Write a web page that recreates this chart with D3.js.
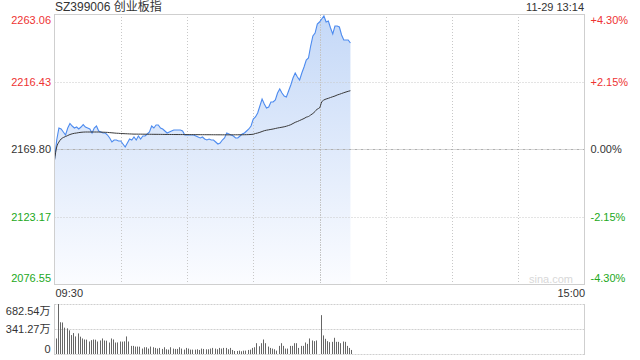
<!DOCTYPE html>
<html><head><meta charset="utf-8">
<script src="https://cdn.jsdelivr.net/npm/d3@7/dist/d3.min.js"></script>
<style>
body{margin:0;background:#fff}
svg{display:block}
text{font-family:"Liberation Sans",Arial,"Noto Sans CJK SC",sans-serif}
</style>
</head><body>
<svg id="c" width="640" height="360"></svg>
<script>
const title = "SZ399006 创业板指";
const stamp = "11-29 13:14";
const prevClose = 2169.80;
const priceTicks = [2263.06, 2216.43, 2169.80, 2123.17, 2076.55];
const pctTicks = ["+4.30%", "+2.15%", "0.00%", "-2.15%", "-4.30%"];
const timeLabels = ["09:30", "15:00"];
const volTicks = [682.54, 341.27, 0];
const watermark = "sina.com";

const prices = [
2162.20,2176.02,2184.31,2183.62,2181.54,2179.47,2184.31,2187.42,2185.69,2184.31,
2185.00,2183.62,2185.00,2186.72,2185.00,2184.31,2183.62,2180.85,2184.31,2185.69,
2182.23,2181.54,2180.85,2180.85,2179.47,2177.40,2174.64,2176.02,2176.02,2175.33,
2175.33,2173.25,2171.18,2173.94,2176.71,2176.02,2178.09,2176.02,2178.78,2176.71,
2178.78,2178.78,2180.16,2181.54,2185.69,2184.31,2186.38,2186.38,2184.31,2183.62,
2182.23,2180.85,2181.54,2182.23,2182.93,2182.93,2182.93,2182.93,2182.23,2179.47,
2179.47,2179.47,2179.47,2179.47,2178.78,2178.09,2177.40,2178.09,2176.71,2176.02,
2176.71,2176.02,2176.02,2174.64,2173.25,2173.94,2176.02,2177.40,2180.85,2180.16,
2179.47,2178.78,2177.40,2177.40,2178.78,2180.16,2180.85,2182.23,2183.62,2185.69,
2190.52,2191.91,2194.67,2199.50,2204.34,2200.89,2198.12,2198.81,2202.27,2202.27,
2203.65,2208.48,2211.25,2208.48,2206.41,2205.72,2209.87,2214.01,2218.85,2222.30,
2219.54,2217.47,2222.30,2226.45,2231.28,2232.66,2240.95,2247.86,2249.93,2256.15,
2257.53,2259.60,2261.68,2257.53,2258.22,2253.39,2249.24,2254.77,2254.77,2254.08,
2248.55,2245.10,2245.10,2245.10,2243.02
];

const avgPrices = [
2162.20,2171.18,2174.64,2176.71,2177.74,2178.44,2179.13,2179.82,2180.30,2180.65,
2180.85,2181.13,2181.34,2181.47,2181.54,2181.54,2181.54,2181.54,2181.54,2181.54,
2181.54,2181.47,2181.41,2181.34,2181.27,2181.13,2180.99,2180.85,2180.71,2180.65,
2180.51,2180.44,2180.37,2180.30,2180.23,2180.16,2180.09,2180.09,2180.06,2180.06,
2180.04,2180.02,2180.00,2179.98,2179.96,2179.95,2179.93,2179.92,2179.90,2179.88,
2179.86,2179.85,2179.83,2179.82,2179.81,2179.80,2179.79,2179.78,2179.78,2179.77,
2179.76,2179.75,2179.74,2179.73,2179.72,2179.71,2179.70,2179.69,2179.68,2179.67,
2179.66,2179.65,2179.64,2179.63,2179.62,2179.61,2179.60,2179.60,2179.60,2179.60,
2179.60,2179.61,2179.62,2179.62,2179.63,2179.64,2179.66,2179.70,2179.75,2179.85,
2180.00,2180.51,2180.85,2181.34,2181.89,2182.44,2182.79,2183.06,2183.34,2183.62,
2183.96,2184.31,2184.58,2184.86,2185.14,2185.55,2186.03,2186.59,2187.42,2188.24,
2188.80,2189.49,2190.18,2190.87,2191.77,2192.25,2193.29,2194.32,2195.71,2197.43,
2198.12,2202.27,2203.65,2204.34,2204.82,2205.38,2205.93,2206.41,2207.10,2207.59,
2208.14,2208.69,2209.18,2209.66,2210.07
];

const volumes = [
212.2,682.54,433.5,430.2,359.7,350.5,322.8,258.3,285.9,239.8,
281.3,236.5,212.2,198.3,196.1,170.6,189.1,198.3,195.4,170.6,
184.5,212.2,184.5,181.7,156.8,212.2,198.3,156.8,158.1,170.6,
168.9,172.4,239.8,170.6,110.7,110.7,101.5,101.5,99.8,73.8,
92.2,92.2,73.8,101.5,92.2,83.0,73.8,83.0,69.2,92.2,
64.6,60.0,92.2,73.8,69.2,69.2,92.2,73.8,60.0,83.0,
73.8,60.0,60.0,60.0,64.6,55.3,73.8,69.2,64.6,64.6,
73.8,83.0,73.8,64.6,83.0,73.8,83.0,83.0,64.6,83.0,
55.3,41.5,41.5,46.1,36.9,46.1,46.1,55.3,60.0,83.0,
92.2,147.6,106.1,147.6,198.3,147.6,101.5,83.0,73.8,64.6,
46.1,110.7,147.6,110.7,73.8,73.8,110.7,110.7,147.6,147.6,
83.0,110.7,110.7,156.8,138.4,212.2,184.5,175.3,184.5,0,
530.4,253.7,207.5,175.3,161.4,166.0,221.4,166.0,166.0,147.6,
170.6,166.0,110.7,83.0,55.3
];

const svg = d3.select("#c");
const L = 54.5, R = 584.5, T = 14, B = 284;
const VT = 304, VB = 354;

const x = d3.scaleLinear().domain([0, 240]).range([L, R]);
const y = d3.scaleLinear().domain([priceTicks[4], priceTicks[0]]).range([B, T]);
const yv = d3.scaleLinear().domain([0, volTicks[0]]).range([VB, VT]);

const red = "#ee3333", green = "#22a822", dark = "#333";
const tickColor = i => i < 2 ? red : (i === 2 ? dark : green);

const defs = svg.append("defs");
const grad = defs.append("linearGradient").attr("id", "g")
  .attr("gradientUnits", "userSpaceOnUse")
  .attr("x1", 0).attr("x2", 0).attr("y1", T).attr("y2", B);
grad.append("stop").attr("offset", "0%").attr("stop-color", "#c4d8f7");
grad.append("stop").attr("offset", "100%").attr("stop-color", "#fbfcff");

const idx = prices.map((d, i) => i);
svg.append("path").datum(idx)
  .attr("d", d3.area().x(i => x(i)).y0(B).y1(i => y(prices[i])))
  .attr("fill", "url(#g)");

const g = svg.append("g");
[30, 60, 90, 150, 180, 210].forEach(t => {
  g.append("line").attr("x1", Math.round(x(t)) + 0.5).attr("x2", Math.round(x(t)) + 0.5)
    .attr("y1", T).attr("y2", B).attr("stroke", "#c8c8c8").attr("stroke-dasharray", "1,2");
});
g.append("line").attr("x1", Math.round(x(120)) + 0.5).attr("x2", Math.round(x(120)) + 0.5)
  .attr("y1", T).attr("y2", B).attr("stroke", "#c4c4c4").attr("stroke-dasharray", "2,1,1,1");
[1, 3].forEach(k => {
  const yy = Math.round(y(priceTicks[k])) + 0.5;
  g.append("line").attr("x1", L).attr("x2", R).attr("y1", yy).attr("y2", yy)
    .attr("stroke", "#c8c8c8").attr("stroke-dasharray", "1,2");
});
{
  const yy = Math.round(y(prevClose)) + 0.5;
  g.append("line").attr("x1", L).attr("x2", R).attr("y1", yy).attr("y2", yy)
    .attr("stroke", "#b0b0b0").attr("stroke-dasharray", "3,1,1,1");
}

svg.append("path").datum(idx)
  .attr("d", d3.line().x(i => x(i)).y(i => y(prices[i])))
  .attr("fill", "none").attr("stroke", "#4d8bef").attr("stroke-width", 1.1);
svg.append("path").datum(idx)
  .attr("d", d3.line().x(i => x(i)).y(i => y(avgPrices[i])).curve(d3.curveMonotoneX))
  .attr("fill", "none").attr("stroke", "#3a3a3a").attr("stroke-width", 1);

svg.append("rect").attr("x", L).attr("y", T + 0.5).attr("width", R - L).attr("height", B - T)
  .attr("fill", "none").attr("stroke", "#cfcfcf");

svg.append("text").attr("x", 573).attr("y", 279).attr("dy", "0.35em")
  .attr("text-anchor", "end").attr("font-size", 11).attr("fill", "#d8d8d8").text(watermark);

const ax = svg.append("g").attr("transform", `translate(${L},0)`)
  .call(d3.axisLeft(y).tickValues(priceTicks).tickSize(0).tickPadding(3.5).tickFormat(d3.format(".2f")));
ax.select(".domain").remove();
ax.selectAll("text").attr("font-size", 11).attr("font-family", null)
  .attr("fill", (d, i) => tickColor(i))
  .attr("y", (d, i) => i === 0 ? 6 : (i === 4 ? -6.5 : 0));

const ar = svg.append("g").attr("transform", `translate(${R},0)`)
  .call(d3.axisRight(y).tickValues(priceTicks).tickSize(0).tickPadding(6).tickFormat((d, i) => pctTicks[i]));
ar.select(".domain").remove();
ar.selectAll("text").attr("font-size", 11).attr("font-family", null)
  .attr("fill", (d, i) => tickColor(i))
  .attr("y", (d, i) => i === 0 ? 6 : (i === 4 ? -6.5 : 0));

const at = svg.append("g").attr("transform", `translate(0,${B})`)
  .call(d3.axisBottom(x).tickValues([0, 240]).tickSize(0).tickPadding(5).tickFormat((d, i) => timeLabels[i]));
at.select(".domain").remove();
at.selectAll("text").attr("font-size", 11).attr("font-family", null).attr("fill", dark)
  .attr("text-anchor", (d, i) => i === 0 ? "start" : "end")
  .attr("dx", (d, i) => i === 0 ? 0.5 : 0);

svg.append("text").attr("x", 55).attr("y", 11).attr("font-size", 12).attr("fill", dark).text(title);
svg.append("text").attr("x", 584).attr("y", 11).attr("font-size", 11).attr("fill", dark)
  .attr("text-anchor", "end").text(stamp);

volTicks.forEach(v => {
  const yy = Math.round(yv(v)) + 0.5;
  svg.append("line").attr("x1", L).attr("x2", R).attr("y1", yy).attr("y2", yy)
    .attr("stroke", "#cfcfcf").attr("stroke-dasharray", "2,1");
});
[L, R].forEach(xx => {
  svg.append("line").attr("x1", xx).attr("x2", xx).attr("y1", VT).attr("y2", VB + 1)
    .attr("stroke", "#cfcfcf");
});
svg.append("g").selectAll("rect").data(volumes).join("rect")
  .attr("x", (d, i) => Math.round(x(i) + 1))
  .attr("width", 1)
  .attr("y", d => yv(d))
  .attr("height", d => VB - yv(d))
  .attr("fill", "#666");

const av = svg.append("g").attr("transform", `translate(${L},0)`)
  .call(d3.axisLeft(yv).tickValues(volTicks).tickSize(0).tickPadding(4)
    .tickFormat(d => d === 0 ? "0" : d3.format(".2f")(d) + "万"));
av.select(".domain").remove();
av.selectAll("text").attr("font-size", 11).attr("font-family", null).attr("fill", dark)
  .attr("y", (d, i) => i === 0 ? 6.5 : (i === 2 ? -5.5 : 0));
</script>
</body></html>
